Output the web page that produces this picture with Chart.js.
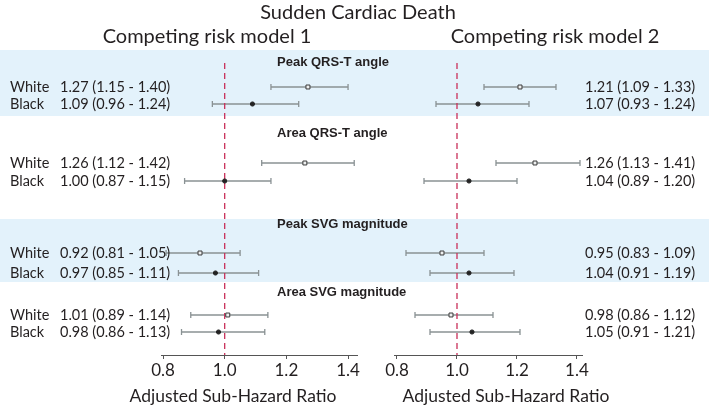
<!DOCTYPE html>
<html>
<head>
<meta charset="utf-8">
<script src="https://cdn.jsdelivr.net/npm/chart.js@4.4.1/dist/chart.umd.min.js"></script>
<style>
  body { margin: 0; background: #fff; }
  #wrap { position: relative; width: 709px; height: 409px; }
  #wrap canvas { position: absolute; left: 0; top: 0; }
</style>
</head>
<body>
<div id="wrap">
  <canvas id="model1" width="709" height="409"></canvas>
  <canvas id="model2" width="709" height="409"></canvas>
</div>
<script>
// ======================
// Data
// ======================
const measures = ["Peak QRS-T angle", "Area QRS-T angle", "Peak SVG magnitude", "Area SVG magnitude"];
const races = ["White", "Black"];

// one pair [White, Black] per measure
const m1Est  = [[1.27, 1.09], [1.26, 1.00], [0.92, 0.97], [1.01, 0.98]];
const m1Low  = [[1.15, 0.96], [1.12, 0.87], [0.81, 0.85], [0.89, 0.86]];
const m1High = [[1.40, 1.24], [1.42, 1.15], [1.05, 1.11], [1.14, 1.13]];

const m2Est  = [[1.21, 1.07], [1.26, 1.04], [0.95, 1.04], [0.98, 1.05]];
const m2Low  = [[1.09, 0.93], [1.13, 0.89], [0.83, 0.91], [0.86, 0.91]];
const m2High = [[1.33, 1.24], [1.41, 1.20], [1.09, 1.19], [1.12, 1.21]];

const xTicks = [0.8, 1.0, 1.2, 1.4];

// ======================
// Layout (y scale units run 50..355 top to bottom)
// ======================
const groupLayout = [
  { head: 62,  rows: [87, 104] },
  { head: 133, rows: [163, 181] },
  { head: 224, rows: [253, 273] },
  { head: 292, rows: [315, 332] }
];
const shaded = [[50, 116], [219, 282]];

const SANS = "Lato, 'Open Sans', sans-serif";
const TXT = "#231f20";

const fmt = v => v.toFixed(2);

function forestPlugin(est, low, high, opts) {
  return {
    id: "forest_" + opts.name,
    beforeDraw(chart) {
      if (!opts.main) return;
      const ctx = chart.ctx, y = chart.scales.y;
      ctx.save();
      ctx.fillStyle = "#e3f2fb";
      shaded.forEach(([a, b]) => {
        const y0 = y.getPixelForValue(a), y1 = y.getPixelForValue(b);
        ctx.fillRect(0, y0, chart.width, y1 - y0);
      });
      ctx.restore();
    },
    beforeDatasetsDraw(chart) {
      const ctx = chart.ctx, x = chart.scales.x, y = chart.scales.y;
      ctx.save();
      // whiskers
      ctx.strokeStyle = "#8a9294";
      ctx.lineWidth = 1.3;
      groupLayout.forEach((g, i) => {
        g.rows.forEach((r, j) => {
          const py = y.getPixelForValue(r);
          const a = x.getPixelForValue(low[i][j]), b = x.getPixelForValue(high[i][j]);
          ctx.beginPath();
          ctx.moveTo(a, py); ctx.lineTo(b, py);
          ctx.moveTo(a, py - 3); ctx.lineTo(a, py + 3);
          ctx.moveTo(b, py - 3); ctx.lineTo(b, py + 3);
          ctx.stroke();
        });
      });
      // reference line at 1.0
      const px = x.getPixelForValue(1.0);
      ctx.strokeStyle = "#c9305a";
      ctx.lineWidth = 1.3;
      ctx.setLineDash([6, 4]);
      ctx.beginPath();
      ctx.moveTo(px, y.getPixelForValue(63));
      ctx.lineTo(px, chart.chartArea.bottom);
      ctx.stroke();
      ctx.restore();
    },
    afterDraw(chart) {
      const ctx = chart.ctx, y = chart.scales.y;
      ctx.save();
      ctx.fillStyle = TXT;
      ctx.textBaseline = "middle";
      ctx.textAlign = "center";
      ctx.font = "20px " + SANS;
      if (opts.main) ctx.fillText("Sudden Cardiac Death", 358, 13);
      ctx.fillText(opts.subtitle, opts.subX, 37);

      // axis title
      ctx.font = "17.5px " + SANS;
      ctx.fillText("Adjusted Sub-Hazard Ratio", opts.axisTitleX, 396);

      if (opts.main) {
        ctx.textAlign = "left";
        ctx.font = "bold 13px 'Liberation Sans', Arial, sans-serif";
        groupLayout.forEach((g, i) => ctx.fillText(measures[i], 277, y.getPixelForValue(g.head)));
      }
      ctx.font = "14.5px " + SANS;
      ctx.textAlign = "left";
      groupLayout.forEach((g, i) => {
        g.rows.forEach((r, j) => {
          const py = y.getPixelForValue(r);
          if (opts.main) ctx.fillText(races[j], 10, py);
          ctx.fillText(fmt(est[i][j]) + " (" + fmt(low[i][j]) + " - " + fmt(high[i][j]) + ")", opts.valX, py);
        });
      });
      ctx.restore();
    }
  };
}

function criarForest(id, est, low, high, opts) {
  const pts = j => groupLayout.map((g, i) => ({ x: est[i][j], y: g.rows[j] }));
  return new Chart(document.getElementById(id), {
    type: "scatter",
    data: {
      datasets: [
        { label: races[0], data: pts(0), pointStyle: "rect", pointRadius: 2.8,
          backgroundColor: "#eef0f0", borderColor: "#3a3a3a", borderWidth: 1 },
        { label: races[1], data: pts(1), pointStyle: "circle", pointRadius: 2.1,
          backgroundColor: "#222", borderColor: "#222", borderWidth: 1 }
      ]
    },
    options: {
      responsive: false,
      animation: false,
      devicePixelRatio: 1,
      layout: { padding: opts.padding },
      plugins: { legend: { display: false }, tooltip: { enabled: false } },
      scales: {
        x: {
          type: "linear",
          position: "bottom",
          min: opts.min,
          max: opts.max,
          afterBuildTicks: s => { s.ticks = xTicks.map(v => ({ value: v })); },
          afterFit: s => { s.height = 54; },
          grid: { drawOnChartArea: false, drawTicks: true, tickLength: 4, color: "#555" },
          border: { display: true, color: "#555", width: 1 },
          ticks: { color: TXT, padding: 1, font: { family: SANS, size: 17 },
                   callback: v => Number(v).toFixed(1) },
          title: { display: false }
        },
        y: { type: "linear", min: 50, max: 355, reverse: true, display: false }
      }
    },
    plugins: [forestPlugin(est, low, high, opts)]
  });
}

document.addEventListener("DOMContentLoaded", () => {
  criarForest("model1", m1Est, m1Low, m1High, {
    name: "m1", main: true, subtitle: "Competing risk model 1", subX: 207, valX: 60,
    axisTitleX: 233,
    min: 0.7935, max: 1.429, padding: { left: 161, right: 352, top: 50, bottom: 0 }
  });
  criarForest("model2", m2Est, m2Low, m2High, {
    name: "m2", main: false, subtitle: "Competing risk model 2", subX: 555, valX: 585,
    axisTitleX: 506,
    min: 0.79, max: 1.4167, padding: { left: 394, right: 127, top: 50, bottom: 0 }
  });
});
</script>
</body>
</html>
